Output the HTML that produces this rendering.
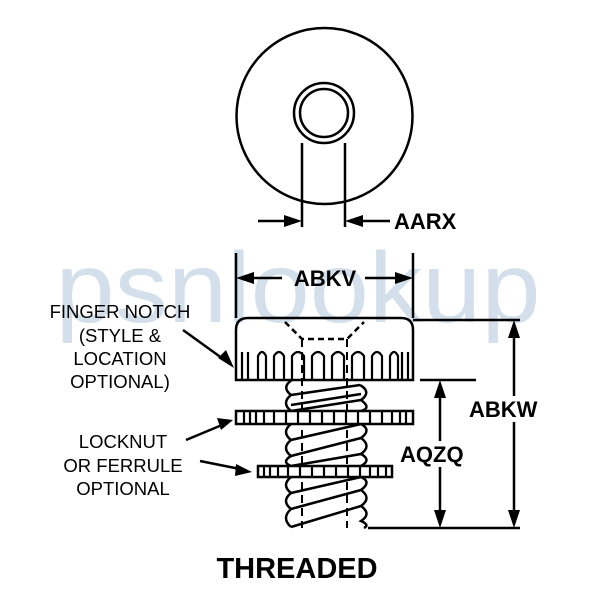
<!DOCTYPE html>
<html><head><style>body{margin:0;background:#fff}</style></head><body>
<svg width="600" height="600" viewBox="0 0 600 600" xmlns="http://www.w3.org/2000/svg" font-family="Liberation Sans, sans-serif">
<text x="298" y="322" font-size="100" fill="#d3e0eb" text-anchor="middle" textLength="485" lengthAdjust="spacingAndGlyphs">psnlookup</text>
<g stroke="#000" stroke-width="2.5" fill="none">
<circle cx="324.5" cy="116" r="88"/>
<circle cx="324" cy="113" r="30"/>
<circle cx="324" cy="113" r="24"/>
<line x1="302" y1="143" x2="302" y2="227"/>
<line x1="345" y1="143" x2="345" y2="227"/>
<line x1="258" y1="221" x2="295" y2="221"/>
<line x1="352" y1="221" x2="390" y2="221"/>
<line x1="236" y1="253" x2="236" y2="318"/>
<line x1="413" y1="253" x2="413" y2="318"/>
<line x1="243" y1="278" x2="282" y2="278"/>
<line x1="365" y1="278" x2="406" y2="278"/>
<path d="M236 380 V330 Q236 318 248 318 H401 Q413 318 413 330 V380 Z"/>
<path d="M285 322 L302 339 H347 L364 322" stroke-dasharray="6,4"/>
<line x1="413" y1="320" x2="520" y2="320"/>
<line x1="514" y1="328" x2="514" y2="520"/>
<line x1="368" y1="528" x2="520" y2="528"/>
<line x1="420" y1="380" x2="476" y2="380"/>
<line x1="440" y1="388" x2="440" y2="520"/>
<path d="M292 380 Q281 387 291 395 Q281 403 291 411 M291 424 Q281 432 291 440 Q281 448 291 456 Q281 462 291 466 M291 477 Q281 485 291 493 Q281 501 291 509 Q281 518 291 527"/>
<path d="M360 385 Q372 392 361 400 Q372 408 361 411 M361 424 Q372 430 361 438 Q372 446 361 454 Q372 460 361 466 M361 477 Q372 482 361 490 Q372 498 361 506 Q372 514 361 521 Q370 525 364 528"/>
<path d="M291 395 L360 385 M291 411 L361 400 M291 440 L361 424 M291 456 L361 438 M291 466 L361 454 M291 493 L361 477 M291 509 L361 490 M291 527 L361 506 M291 405 L361 394"/>
<line x1="302" y1="339" x2="302" y2="528" stroke-dasharray="8,5" stroke-width="2"/>
<line x1="347" y1="339" x2="347" y2="528" stroke-dasharray="8,5" stroke-width="2"/>
<rect x="236" y="411" width="177" height="13" fill="#fff"/>
<rect x="258" y="466" width="134" height="11" fill="#fff"/>
<line x1="183" y1="330" x2="226" y2="361"/>
<line x1="186" y1="440" x2="222" y2="425"/>
<line x1="200" y1="461" x2="240" y2="469"/>
</g>
<g stroke="#000" stroke-width="2.2" fill="none">
<path d="M242 380 V352 M248 380 V352 M258 380 V356 Q262 348 266 356 V380 M274 380 V356 Q279 348 284 356 V380 M292 380 V356 Q298 348 304 356 V380 M312 380 V356 Q318 348 324 356 V380 M332 380 V356 Q338 348 344 356 V380 M352 380 V356 Q358 348 364 356 V380 M372 380 V356 Q377 348 382 356 V380 M390 380 V356 Q394 348 398 356 V380 M402 380 V352 M408 380 V352"/>
<path d="M244 411 V424 M250 411 V424 M256 411 V424 M264 411 V424 M274 411 V424 M286 411 V424 M298 411 V424 M310 411 V424 M322 411 V424 M334 411 V424 M346 411 V424 M358 411 V424 M370 411 V424 M382 411 V424 M392 411 V424 M400 411 V424 M406 411 V424"/>
<path d="M264 466 V477 M270 466 V477 M278 466 V477 M288 466 V477 M300 466 V477 M312 466 V477 M324 466 V477 M336 466 V477 M348 466 V477 M360 466 V477 M370 466 V477 M378 466 V477 M386 466 V477"/>
</g>
<g fill="#000">
<path d="M302 221 L284 215 L284 227 Z"/>
<path d="M345 221 L363 215 L363 227 Z"/>
<path d="M236 278 L254 272 L254 284 Z"/>
<path d="M413 278 L395 272 L395 284 Z"/>
<path d="M514 320 L508 338 L520 338 Z"/>
<path d="M514 528 L508 510 L520 510 Z"/>
<path d="M440 380 L434 398 L446 398 Z"/>
<path d="M440 528 L434 510 L446 510 Z"/>
<path d="M234 368 L218 358 L226 350 Z"/>
<path d="M233 420 L217 418 L221 430 Z"/>
<path d="M252 472 L236 464 L235 476 Z"/>
</g>
<rect x="466" y="396" width="74" height="26" fill="#fff"/>
<rect x="397" y="441" width="70" height="26" fill="#fff"/>
<g font-weight="bold" font-size="22">
<text x="394" y="229">AARX</text>
<text x="325" y="286" text-anchor="middle">ABKV</text>
<text x="469" y="417">ABKW</text>
<text x="400" y="462">AQZQ</text>
</g>
<text x="297" y="578" font-weight="bold" font-size="29" text-anchor="middle">THREADED</text>
<g font-size="18.5" text-anchor="middle">
<text x="120" y="318">FINGER NOTCH</text>
<text x="120" y="342">(STYLE &amp;</text>
<text x="120" y="365">LOCATION</text>
<text x="120" y="388">OPTIONAL)</text>
<text x="123" y="448">LOCKNUT</text>
<text x="123" y="472">OR FERRULE</text>
<text x="123" y="495">OPTIONAL</text>
</g>
</svg>
</body></html>
